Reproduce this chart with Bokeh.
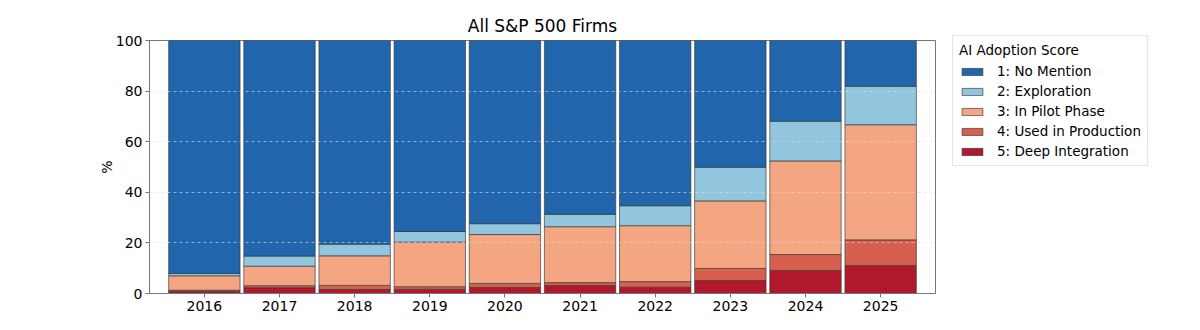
from bokeh.plotting import figure
from bokeh.models import Range1d, FixedTicker, Legend, LegendItem
from bokeh.embed import file_html
from bokeh.resources import INLINE

years = ["2016", "2017", "2018", "2019", "2020", "2021", "2022", "2023", "2024", "2025"]
deep_integration = [0.9, 2.3, 1.6, 1.7, 2.4, 3.2, 2.5, 5.1, 9.1, 11.1]
used_in_production = [0.4, 0.8, 1.6, 1.0, 1.6, 1.1, 2.2, 4.8, 6.3, 10.1]
in_pilot_phase = [5.7, 7.7, 11.7, 17.6, 19.3, 22.1, 22.1, 26.7, 37.0, 45.5]
exploration = [0.9, 4.0, 4.6, 4.2, 4.3, 4.9, 7.9, 13.3, 15.7, 15.2]
no_mention = [round(100 - a - b - c - d, 1) for a, b, c, d in
              zip(deep_integration, used_in_production, in_pilot_phase, exploration)]

labels = ["1: No Mention", "2: Exploration", "3: In Pilot Phase",
          "4: Used in Production", "5: Deep Integration"]
colors = ["#2166ac", "#92c5de", "#f4a582", "#d6604d", "#b2182b"]

FONT = "DejaVu Sans"
x = list(range(len(years)))

p = figure(frame_width=786, frame_height=253, output_backend="svg", toolbar_location=None,
           x_range=Range1d(-0.73, 9.73), y_range=Range1d(0, 100),
           min_border_left=149, min_border_right=265, min_border_top=40, min_border_bottom=37)

p.title.text = "All S&P 500 Firms"
p.title.align = "center"
p.title.text_font = FONT
p.title.text_font_size = "17px"
p.title.text_font_style = "normal"
p.title.text_color = "#000000"
p.title.offset = 0

series = [deep_integration, used_in_production, in_pilot_phase, exploration, no_mention]
series_colors = [colors[4], colors[3], colors[2], colors[1], colors[0]]
bottoms = [0.0] * len(years)
renderers = []
for vals, col in zip(series, series_colors):
    tops = [b + v for b, v in zip(bottoms, vals)]
    r = p.vbar(x=x, bottom=bottoms, top=tops, width=0.95, fill_color=col,
               line_color="#333333", line_alpha=0.8, line_width=0.8)
    renderers.append(r)
    bottoms = tops
renderers = renderers[::-1]  # No Mention first

legend = Legend(items=[LegendItem(label=l, renderers=[r]) for l, r in zip(labels, renderers)],
                title="AI Adoption Score", location=(17, 127))
legend.title_text_font = FONT
legend.title_text_font_size = "13.5px"
legend.title_text_font_style = "normal"
legend.title_text_color = "#000000"
legend.label_text_font = FONT
legend.label_text_font_size = "13.5px"
legend.label_text_color = "#000000"
legend.glyph_width = 26
legend.glyph_height = 9
legend.spacing = 4
legend.padding = 6
legend.margin = 0
legend.border_line_color = "#cccccc"
legend.border_line_width = 1
legend.label_standoff = 12
legend.title_standoff = 5
p.add_layout(legend, "right")

p.xaxis.ticker = FixedTicker(ticks=x)
p.xaxis.major_label_overrides = {i: y for i, y in enumerate(years)}
p.yaxis.ticker = FixedTicker(ticks=[0, 20, 40, 60, 80, 100])
p.yaxis.axis_label = "%"
p.yaxis.axis_label_text_font = FONT
p.yaxis.axis_label_text_font_size = "14px"
p.yaxis.axis_label_text_font_style = "normal"
p.yaxis.axis_label_text_color = "#000000"
p.yaxis.axis_label_standoff = -2

for ax in (p.xaxis, p.yaxis):
    ax.major_label_text_font = FONT
    ax.major_label_text_font_size = "14px"
    ax.major_label_text_color = "#000000"
    ax.axis_line_color = "#777777"
    ax.major_tick_line_color = "#777777"
    ax.major_tick_out = 4
    ax.major_tick_in = 0
    ax.minor_tick_line_color = None
    ax.major_label_standoff = 3

p.xgrid.grid_line_color = None
p.ygrid.grid_line_color = "#dddddd"
p.ygrid.grid_line_alpha = 0.6
p.ygrid.grid_line_dash = "3 3"
p.ygrid.level = "annotation"

p.outline_line_color = "#777777"
p.outline_line_width = 1
p.background_fill_color = "white"
p.border_fill_color = "white"

open("out.html", "w").write(file_html(p, INLINE))
